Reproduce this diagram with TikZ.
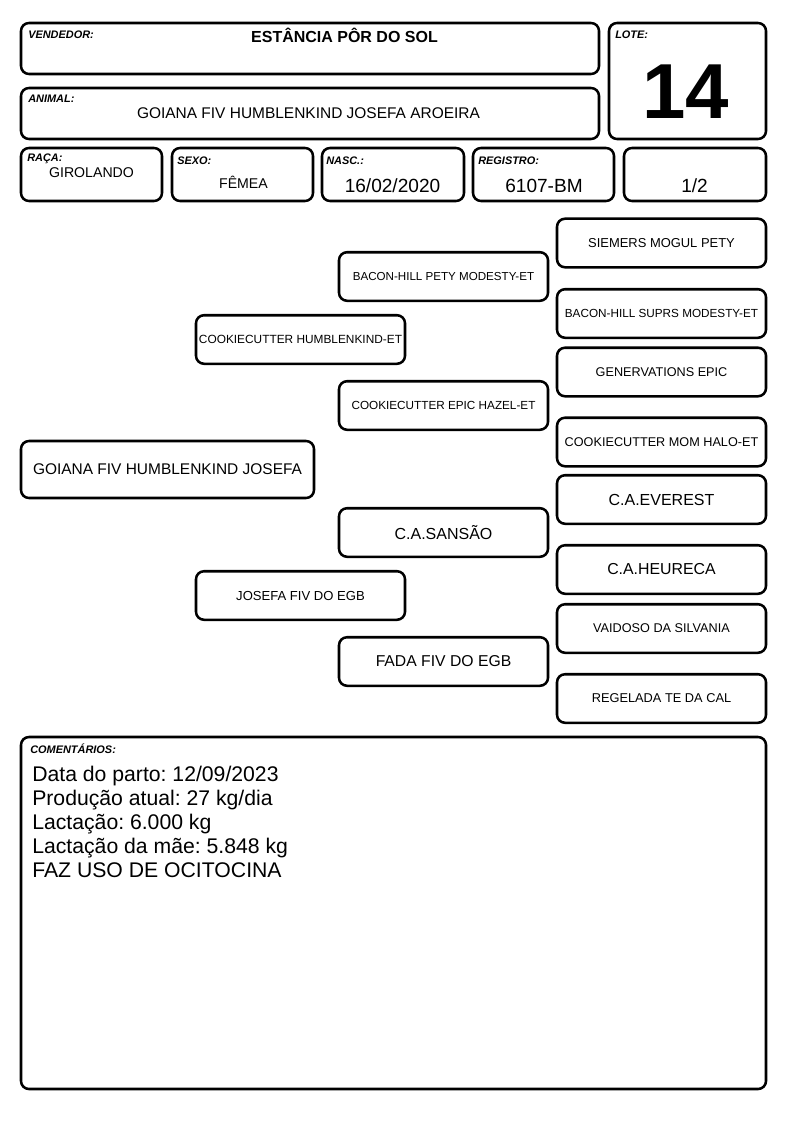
\documentclass[tikz,border=0pt]{standalone}
\usepackage{fontspec}
\setmainfont{Liberation Sans}
\usetikzlibrary{fit}
\frenchspacing
\tikzset{
  box/.style={draw=black, line width=1.9pt, rounded corners=6pt, inner sep=0pt},
  ped/.style={box, minimum width=156.75pt, minimum height=36.4pt, align=center},
  lbl/.style={anchor=base west, inner sep=0pt, font=\fontsize{8.2}{9}\selectfont\bfseries\itshape},
  val/.style={anchor=base, inner sep=0pt},
  com/.style={anchor=base west, inner sep=0pt, font=\fontsize{15.9}{18}\selectfont},
}
\newcommand{\fs}[1]{\fontsize{#1}{#1}\selectfont}
\newcommand{\formbox}[5]{%
  \coordinate (#1-a) at (#2,#3);
  \coordinate (#1-b) at (#4,#5);
  \node[box, fit=(#1-a)(#1-b)] (#1) {};}
\begin{document}
\begin{tikzpicture}[x=0.75pt, y=-0.75pt]
\fill[white] (0,0) rectangle (794,1123);
\useasboundingbox (0,0) rectangle (794,1123);

% header boxes
\formbox{vend}{21}{23}{599}{74}
\formbox{animal}{21}{88}{599}{139}
\formbox{lote}{609}{23}{766}{139}
\formbox{raca}{21}{148}{162}{201}
\formbox{sexo}{172}{148}{313}{201}
\formbox{nasc}{322}{148}{464}{201}
\formbox{reg}{473}{148}{614}{201}
\formbox{half}{624}{148}{766}{201}
\formbox{coment}{21}{737}{766}{1089}

% labels
\node[lbl] (vendl) at (28,39) {VENDEDOR:};
\node[lbl] (animall) at (28,103) {ANIMAL:};
\node[lbl] (lotel) at (615,39) {LOTE:};
\node[lbl] (racal) at (27,162) {RAÇA:};
\node[lbl] (sexol) at (177,165) {SEXO:};
\node[lbl] (nascl) at (326,165) {NASC.:};
\node[lbl] (regl) at (478,165) {REGISTRO:};
\node[lbl] (comentl) at (30,753) {COMENTÁRIOS:};

% values
\node[val, font=\fs{12}\bfseries] (vendv) at (344.5,43) {ESTÂNCIA PÔR DO SOL};
\node[val, font=\fs{11.6}] (animalv) at (308.5,119) {GOIANA FIV HUMBLENKIND JOSEFA AROEIRA};
\node[val, font=\fs{58.5}\bfseries] (lotev) at (685.5,119) {14};
\node[val, font=\fs{10.6}] (racav) at (91.5,178) {GIROLANDO};
\node[val, font=\fs{10.6}] (sexov) at (243.5,189) {FÊMEA};
\node[val, font=\fs{14.3}] (nascv) at (392.5,193) {16/02/2020};
\node[val, font=\fs{14.3}] (regv) at (544,193) {6107-BM};
\node[val, font=\fs{14.3}] (halfv) at (694.5,193) {1/2};

% pedigree
\node[ped, font=\fs{9.7}] (siemers) at (661.5,243) {SIEMERS MOGUL PETY};
\node[ped, font=\fs{8.7}] (baconpety) at (443.5,276.5) {BACON-HILL PETY MODESTY-ET};
\node[ped, font=\fs{8.8}] (baconsuprs) at (661.5,313.5) {BACON-HILL SUPRS MODESTY-ET};
\node[ped, font=\fs{8.9}] (humblen) at (300.5,339.5) {COOKIECUTTER HUMBLENKIND-ET};
\node[ped, font=\fs{9.5}] (generv) at (661.5,372) {GENERVATIONS EPIC};
\node[ped, font=\fs{8.8}] (hazel) at (443.5,405.5) {COOKIECUTTER EPIC HAZEL-ET};
\node[ped, font=\fs{9.5}] (momhalo) at (661.5,442) {COOKIECUTTER MOM HALO-ET};
\node[box, minimum width=219.75pt, minimum height=42.75pt, font=\fs{11.6}] (goiana) at (167.5,469.5) {GOIANA FIV HUMBLENKIND JOSEFA};
\node[ped, font=\fs{12}] (everest) at (661.5,499.5) {C.A.EVEREST};
\node[ped, font=\fs{12}] (sansao) at (443.5,532.5) {C.A.SANSÃO};
\node[ped, font=\fs{11.9}] (heureca) at (661.5,569.5) {C.A.HEURECA};
\node[ped, font=\fs{9.8}] (josefa) at (300.5,595.5) {JOSEFA FIV DO EGB};
\node[ped, font=\fs{9.5}] (vaidoso) at (661.5,628.5) {VAIDOSO DA SILVANIA};
\node[ped, font=\fs{11.8}] (fada) at (443.5,661.5) {FADA FIV DO EGB};
\node[ped, font=\fs{9.6}] (regelada) at (661.5,698.5) {REGELADA TE DA CAL};

% comments
\node[com] (c1) at (32,781) {Data do parto: 12/09/2023};
\node[com] (c2) at (32,805) {Produção atual: 27 kg/dia};
\node[com] (c3) at (32,829) {Lactação: 6.000 kg};
\node[com] (c4) at (32,853) {Lactação da mãe: 5.848 kg};
\node[com] (c5) at (32,877) {FAZ USO DE OCITOCINA};
\end{tikzpicture}
\end{document}
